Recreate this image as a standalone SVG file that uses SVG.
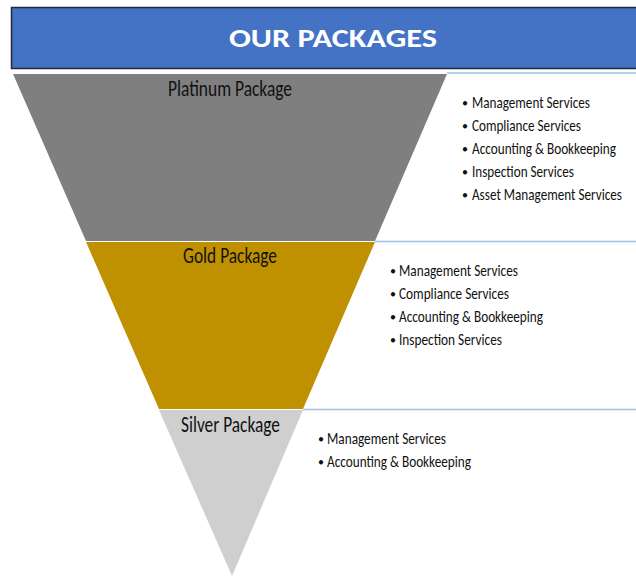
<svg xmlns="http://www.w3.org/2000/svg" width="636" height="576" viewBox="0 0 636 576">
<style>
.t{font-family:Carlito,'Liberation Sans Narrow','DejaVu Sans Condensed',Lato,sans-serif;fill:#111}
.item{font-size:15.5px}
.b{font-size:12px}
.lbl{font-size:21.5px;text-anchor:start}
.hdr{font-family:Carlito,Lato,'Liberation Sans',sans-serif;font-weight:bold;font-size:27px;fill:#fff}
.sep{stroke:#9dc3e6;stroke-width:1.6;fill:none}
</style>
<rect width="636" height="576" fill="#fff"/>
<g id="header">
<rect x="11.5" y="7.5" width="630" height="61" fill="#4472c4" stroke="#1f2b3a" stroke-width="1.5"/>
<text class="hdr" x="229" y="47" textLength="208" lengthAdjust="spacingAndGlyphs">OUR PACKAGES</text>
</g>
<g id="connectors">
<line class="sep" x1="447" y1="73" x2="636" y2="73"/>
<line class="sep" x1="375" y1="241.5" x2="636" y2="241.5"/>
<line class="sep" x1="303" y1="409.5" x2="636" y2="409.5"/>
</g>
<g id="platinum">
<polygon points="13,74 447,74 375,241 86,241" fill="#7f7f7f"/>
<text class="t lbl" x="168" y="96" textLength="124" lengthAdjust="spacingAndGlyphs">Platinum Package</text>
<g class="t item">
<text class="b" x="462" y="107">•</text><text x="472" y="108" textLength="118" lengthAdjust="spacingAndGlyphs">Management Services</text>
<text class="b" x="462" y="130">•</text><text x="472" y="131" textLength="109" lengthAdjust="spacingAndGlyphs">Compliance Services</text>
<text class="b" x="462" y="153">•</text><text x="472" y="154" textLength="144" lengthAdjust="spacingAndGlyphs">Accounting &amp; Bookkeeping</text>
<text class="b" x="462" y="176">•</text><text x="472" y="177" textLength="102" lengthAdjust="spacingAndGlyphs">Inspection Services</text>
<text class="b" x="462" y="199">•</text><text x="472" y="200" textLength="150" lengthAdjust="spacingAndGlyphs">Asset Management Services</text>
</g>
</g>
<g id="gold">
<polygon points="86,242 375,242 303,409 159,409" fill="#bf9000"/>
<text class="t lbl" x="183" y="263" textLength="94" lengthAdjust="spacingAndGlyphs">Gold Package</text>
<g class="t item">
<text class="b" x="390" y="275">•</text><text x="399" y="276" textLength="119" lengthAdjust="spacingAndGlyphs">Management Services</text>
<text class="b" x="390" y="298">•</text><text x="399" y="299" textLength="110" lengthAdjust="spacingAndGlyphs">Compliance Services</text>
<text class="b" x="390" y="321">•</text><text x="399" y="322" textLength="144" lengthAdjust="spacingAndGlyphs">Accounting &amp; Bookkeeping</text>
<text class="b" x="390" y="344">•</text><text x="399" y="345" textLength="103" lengthAdjust="spacingAndGlyphs">Inspection Services</text>
</g>
</g>
<g id="silver">
<polygon points="159,410 303,410 232,576" fill="#cfcfcf"/>
<text class="t lbl" x="181" y="432" textLength="99" lengthAdjust="spacingAndGlyphs">Silver Package</text>
<g class="t item">
<text class="b" x="318" y="443">•</text><text x="327" y="444" textLength="119" lengthAdjust="spacingAndGlyphs">Management Services</text>
<text class="b" x="318" y="466">•</text><text x="327" y="467" textLength="144" lengthAdjust="spacingAndGlyphs">Accounting &amp; Bookkeeping</text>
</g>
</g>
</svg>
